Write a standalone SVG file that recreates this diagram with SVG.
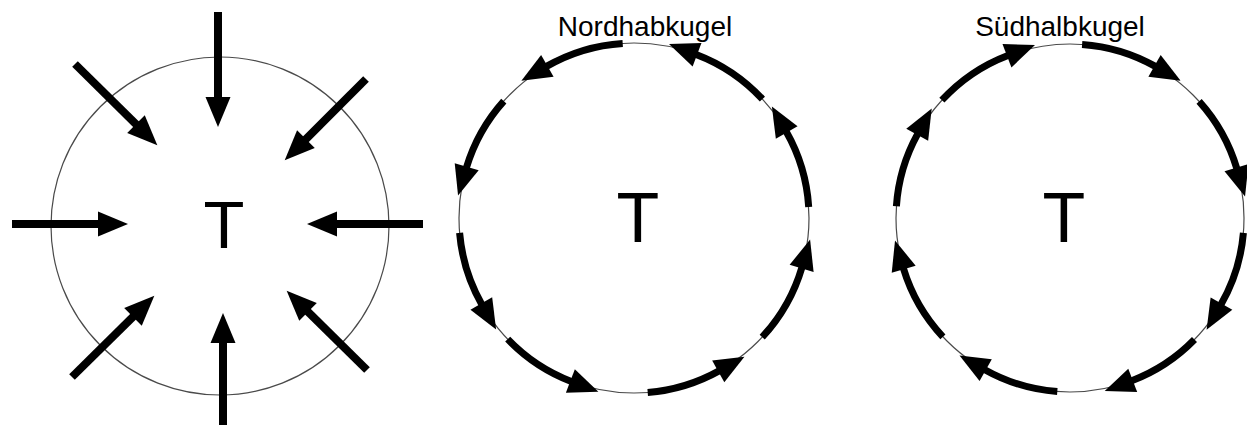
<svg xmlns="http://www.w3.org/2000/svg" width="1247" height="425" viewBox="0 0 1247 425">
  <style>
    .ring { fill: none; stroke: #4a4a4a; stroke-width: 1.2; }
    .lbl { font-family: "Liberation Sans", Arial, sans-serif; fill: #000; text-anchor: middle; }
    .ttl { font-size: 28px; }
    .tt { font-size: 70px; }
    .sa { fill: none; stroke: #000; stroke-width: 8; marker-end: url(#ah); }
    .ca { fill: none; stroke: #000; stroke-width: 7; marker-end: url(#ah); }
  </style>
  <defs>
    <marker id="ah" markerUnits="userSpaceOnUse" markerWidth="32" markerHeight="26" refX="1" refY="12.5" orient="auto" overflow="visible">
      <path d="M0,0 L30,12.5 L0,25 Z" fill="#000"/>
    </marker>
  </defs>
  <rect width="1247" height="425" fill="#fff"/>

  <g id="tief-konvergenz">
    <circle class="ring" cx="220" cy="226" r="169"/>
    <text class="lbl tt" x="224" y="248" style="font-size:67px">T</text>
  </g>
  <g id="tief-nord">
    <circle class="ring" cx="634" cy="218" r="175"/>
    <text class="lbl ttl" x="645" y="36">Nordhabkugel</text>
    <text class="lbl tt" x="638" y="242">T</text>
  </g>
  <g id="tief-sued">
    <circle class="ring" cx="1070" cy="218" r="174"/>
    <text class="lbl ttl" x="1060" y="36">Südhalbkugel</text>
    <text class="lbl tt" x="1064" y="242">T</text>
  </g>

  <g id="connectors">
    <!-- left: converging straight arrows -->
    <line class="sa" x1="218" y1="12" x2="218" y2="98"/>
    <line class="sa" x1="366" y1="79" x2="305.2" y2="139.8"/>
    <line class="sa" x1="423" y1="224" x2="336" y2="224"/>
    <line class="sa" x1="367" y1="370" x2="307.3" y2="311.1"/>
    <line class="sa" x1="223" y1="430" x2="223" y2="342"/>
    <line class="sa" x1="72" y1="377" x2="133.7" y2="316.1"/>
    <line class="sa" x1="12" y1="224" x2="99" y2="224"/>
    <line class="sa" x1="75" y1="64" x2="136.7" y2="124.9"/>

    <!-- middle: counter-clockwise arcs -->
    <path class="ca" d="M622.7,43.4 A175,175 0 0 0 546.5,66.4"/>
    <path class="ca" d="M503.8,101.1 A175,175 0 0 0 466.4,167.7"/>
    <path class="ca" d="M459.6,232.9 A175,175 0 0 0 481.8,304.4"/>
    <path class="ca" d="M507.7,339.1 A175,175 0 0 0 571.3,381.4"/>
    <path class="ca" d="M647.7,392.5 A175,175 0 0 0 719.1,370.9"/>
    <path class="ca" d="M762.2,337.1 A175,175 0 0 0 801.9,267.4"/>
    <path class="ca" d="M808.7,207.0 A175,175 0 0 0 786.2,131.6"/>
    <path class="ca" d="M762.4,99.1 A175,175 0 0 0 696.1,54.4"/>

    <!-- right: clockwise arcs -->
    <path class="ca" d="M1082.1,44.4 A174,174 0 0 1 1155.4,66.4"/>
    <path class="ca" d="M1199.1,101.4 A174,174 0 0 1 1236.8,168.6"/>
    <path class="ca" d="M1243.4,232.9 A174,174 0 0 1 1221.0,304.5"/>
    <path class="ca" d="M1194.5,339.5 A174,174 0 0 1 1131.8,380.7"/>
    <path class="ca" d="M1057.3,391.5 A174,174 0 0 1 984.8,369.7"/>
    <path class="ca" d="M942.9,336.9 A174,174 0 0 1 903.4,268.3"/>
    <path class="ca" d="M896.4,206.2 A174,174 0 0 1 917.7,133.9"/>
    <path class="ca" d="M941.9,100.2 A174,174 0 0 1 1007.9,55.4"/>
  </g>
</svg>
